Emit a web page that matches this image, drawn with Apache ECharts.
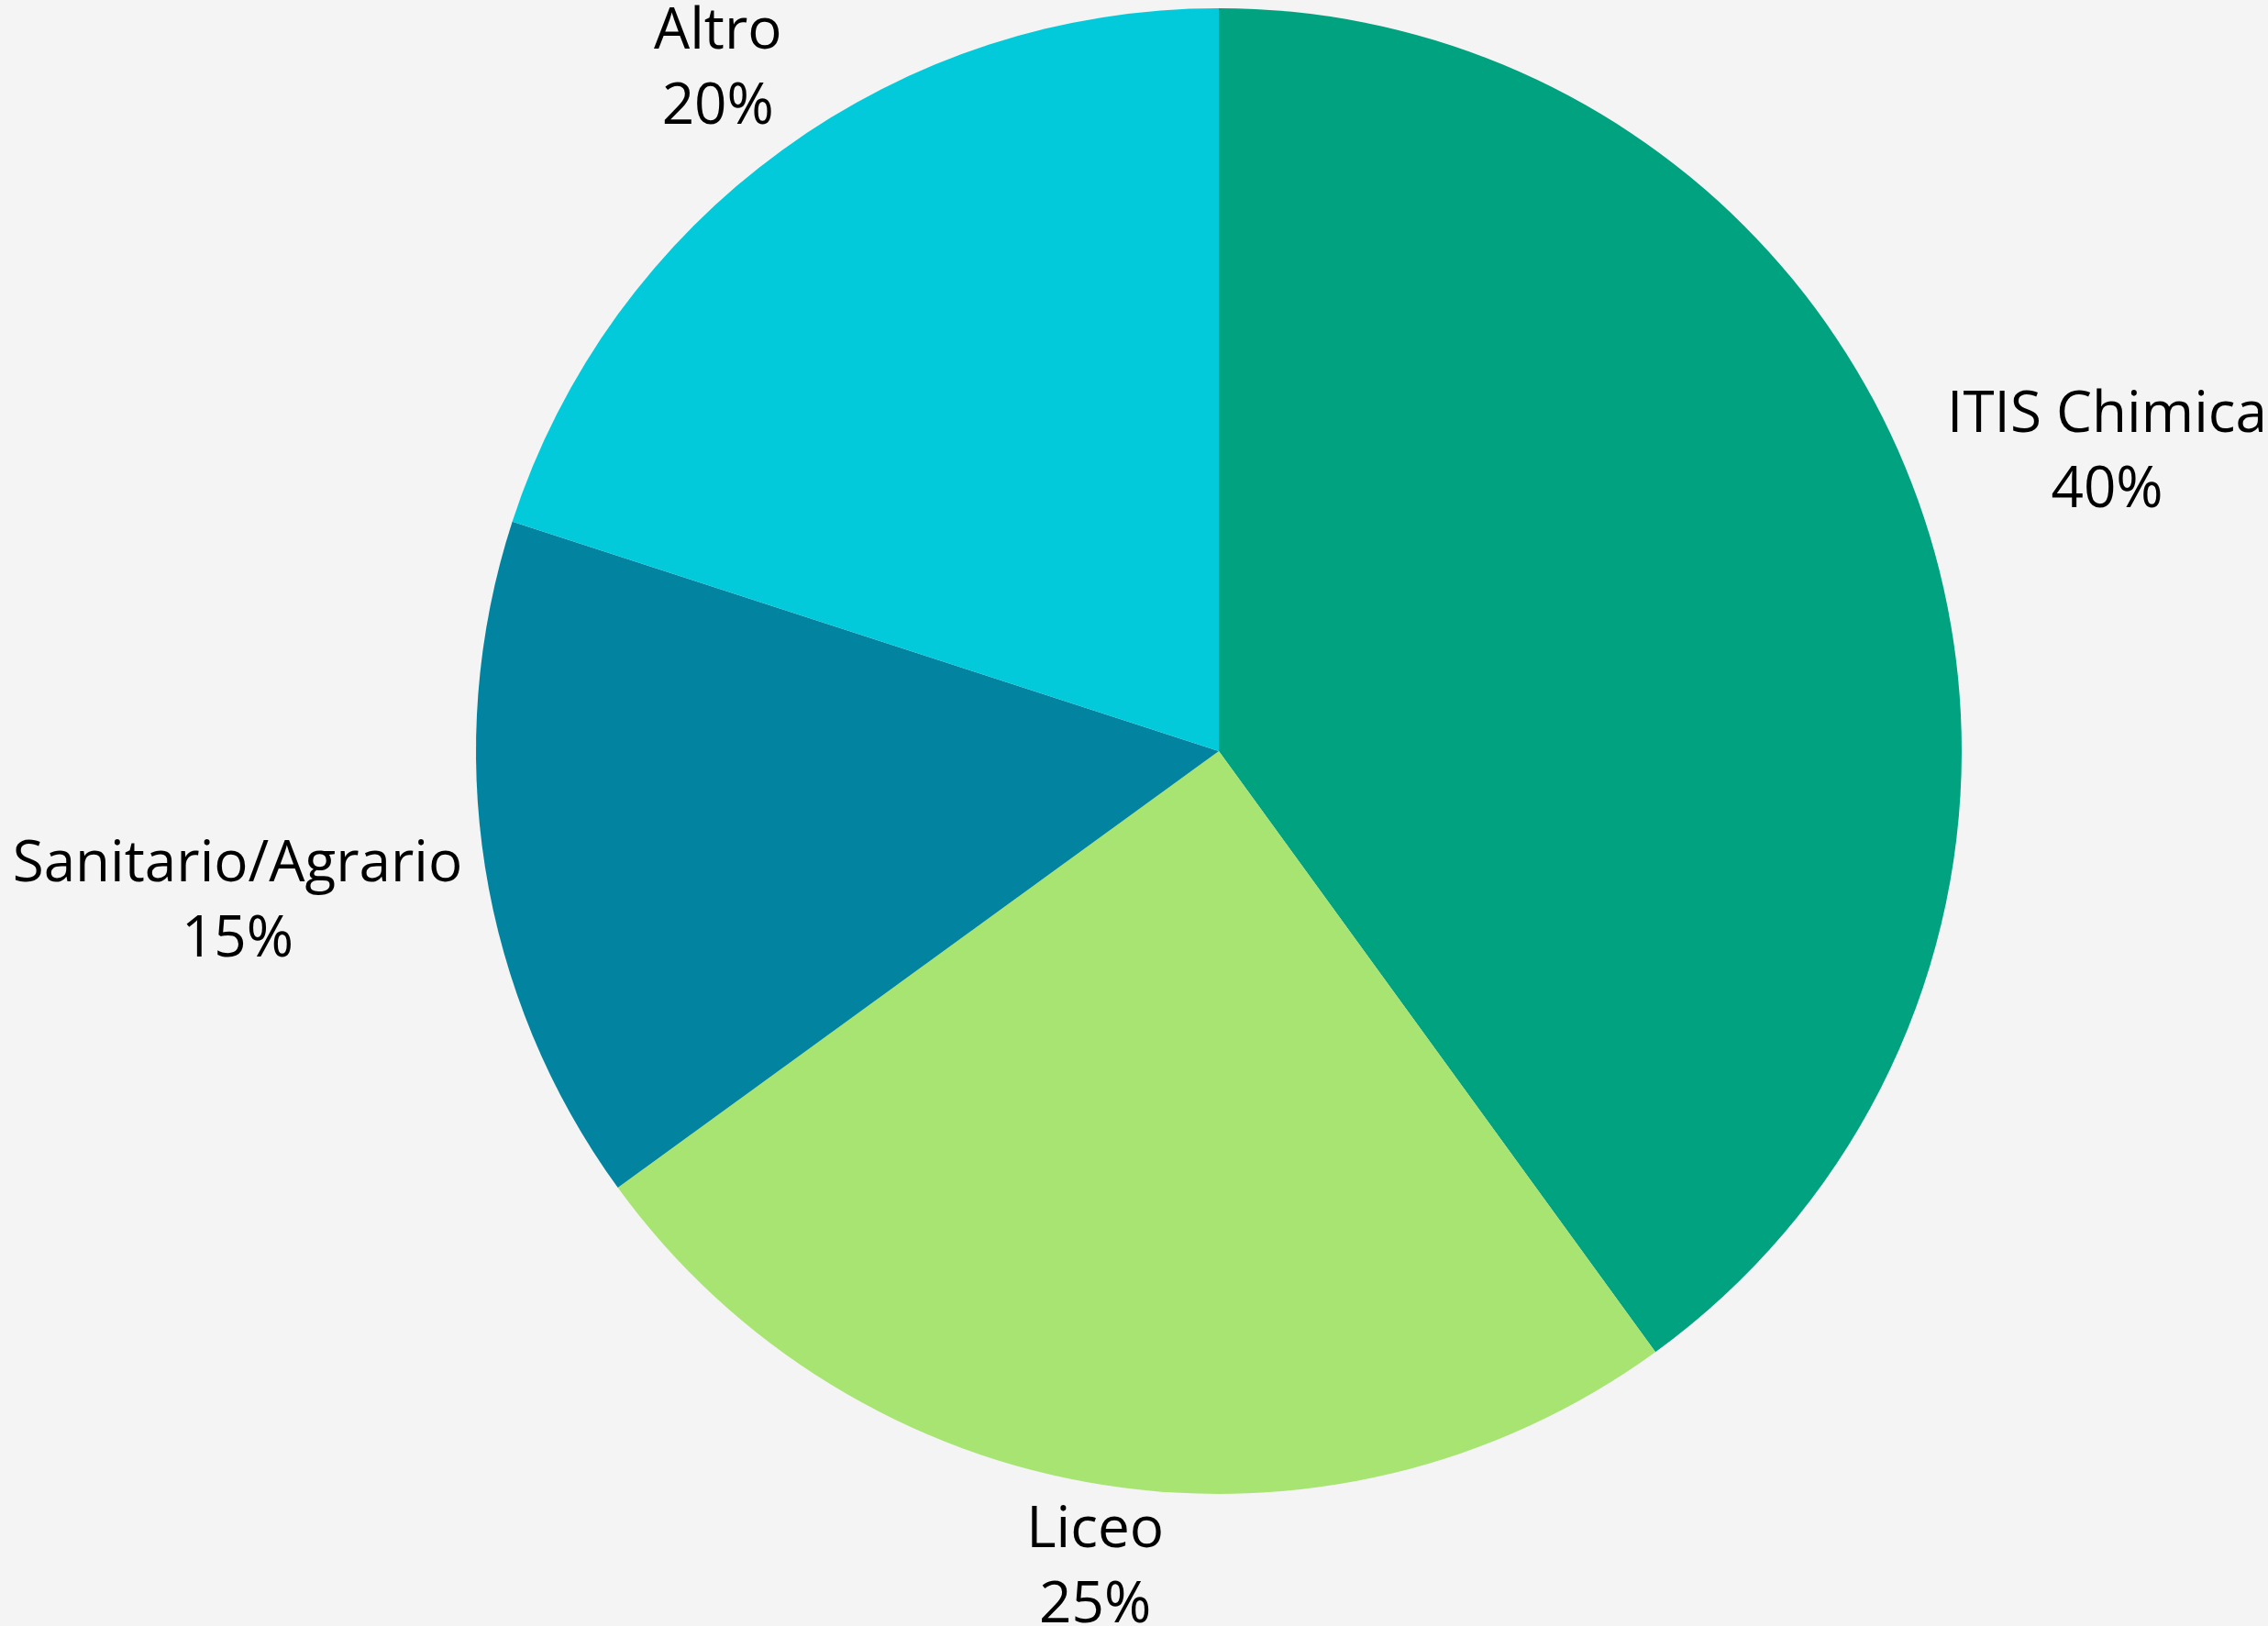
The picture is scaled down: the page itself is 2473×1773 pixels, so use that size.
<!DOCTYPE html>
<html><head><meta charset="utf-8">
<script src="https://cdn.jsdelivr.net/npm/echarts@6/dist/echarts.min.js"></script>
<style>html,body{margin:0;padding:0;background:#f4f4f4;} #c{width:2473px;height:1773px;}</style>
</head><body><div id="c"></div>
<script>
const categories = ['ITIS Chimica', 'Liceo', 'Sanitario/Agrario', 'Altro'];
const values = [40, 25, 15, 20];
const colors = ['#00a27f', '#a8e472', '#0284a0', '#03cadb'];

const chart = echarts.init(document.getElementById('c'), null, {renderer: 'canvas'});
const CX = 0.5374, CY = 0.4619, R = 0.9137;
const total = values.reduce((a, b) => a + b, 0);
const mids = [];
let acc = 0;
values.forEach(v => { mids.push(90 - (acc + v / 2) / total * 360); acc += v; });
function clamp(v) { return Math.max(-1, Math.min(1, v)); }

chart.setOption({
  backgroundColor: '#f4f4f4',
  animation: false,
  series: [{
    type: 'pie',
    center: [CX * 100 + '%', CY * 100 + '%'],
    radius: R * 100 + '%',
    startAngle: 90,
    clockwise: true,
    avoidLabelOverlap: false,
    data: categories.map((n, i) => ({name: n, value: values[i], itemStyle: {color: colors[i]}})),
    label: {show: true, position: 'outside', formatter: '{b}\n{c}%', fontFamily: 'Open Sans', fontSize: 62, lineHeight: 82, color: '#000'},
    labelLine: {show: false},
    emphasis: {disabled: true},
    labelLayout: function (p) {
      const w = chart.getWidth(), h = chart.getHeight();
      const cx = w * CX, cy = h * CY, r = Math.min(w, h) / 2 * R;
      const a = mids[p.dataIndex] * Math.PI / 180;
      const c = Math.cos(a), s = Math.sin(a);
      const g = 25;
      const qx = cx + (r + g) * c, qy = cy - (r + g) * s;
      const bw = p.labelRect.width, bh = p.labelRect.height - 30;
      return {x: qx + bw / 2 * clamp(c * Math.abs(c) * 2.3), y: qy - bh / 2 * clamp(s * 3.3), align: 'center', verticalAlign: 'middle'};
    }
  }]
});
</script></body></html>
